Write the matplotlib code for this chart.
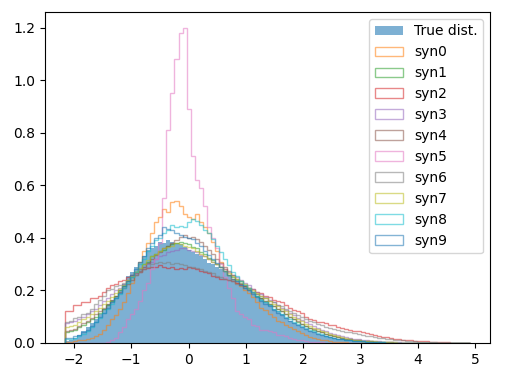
import matplotlib
matplotlib.use("Agg")
import matplotlib.pyplot as plt
import numpy as np

# ---- bins (shared by every histogram) ----
bin_lo, bin_hi, n_bins = -2.15, 4.90, 100

# ---- densities per bin ----
true_dist = [
    0.008, 0.012, 0.02, 0.03, 0.045, 0.06, 0.075, 0.09, 0.11, 0.13,
    0.15, 0.165, 0.18, 0.2, 0.225, 0.255, 0.27, 0.29, 0.31, 0.33,
    0.355, 0.36, 0.37, 0.385, 0.38, 0.39, 0.385, 0.38, 0.375, 0.365,
    0.355, 0.345, 0.34, 0.33, 0.32, 0.305, 0.3, 0.29, 0.28, 0.27,
    0.255, 0.245, 0.235, 0.225, 0.215, 0.2, 0.19, 0.18, 0.17, 0.155,
    0.145, 0.13, 0.12, 0.11, 0.095, 0.085, 0.075, 0.068, 0.06, 0.053,
    0.047, 0.041, 0.036, 0.031, 0.027, 0.023, 0.02, 0.017, 0.014, 0.012,
    0.01, 0.009, 0.007, 0.006, 0.005, 0.004, 0.0035, 0.003, 0.0025, 0.002,
    0.0015, 0.0015, 0.001, 0.001, 0.0008, 0.0006, 0.0005, 0.0004, 0.0003, 0.0003,
    0.0002, 0.0002, 0.0001, 0.0001, 0, 0, 0, 0, 0, 0,
]

syn0 = [
    0.005, 0.005, 0.008, 0.01, 0.012, 0.015, 0.02, 0.025, 0.035, 0.05,
    0.07, 0.09, 0.105, 0.13, 0.155, 0.19, 0.23, 0.27, 0.31, 0.35,
    0.38, 0.42, 0.46, 0.48, 0.51, 0.5, 0.535, 0.54, 0.52, 0.49,
    0.48, 0.47, 0.49, 0.46, 0.44, 0.42, 0.385, 0.35, 0.31, 0.28,
    0.26, 0.245, 0.23, 0.215, 0.2, 0.19, 0.175, 0.155, 0.135, 0.125,
    0.11, 0.1, 0.085, 0.078, 0.07, 0.06, 0.052, 0.045, 0.038, 0.03,
    0.024, 0.019, 0.015, 0.012, 0.01, 0.007, 0.005, 0.004, 0.003, 0.002,
    0.0015, 0.001, 0.001, 0.0005, 0.0005, 0, 0, 0, 0, 0,
    0, 0, 0, 0, 0, 0, 0, 0, 0, 0,
    0, 0, 0, 0, 0, 0, 0, 0, 0, 0,
]

syn1 = [
    0.04, 0.045, 0.05, 0.06, 0.07, 0.08, 0.09, 0.1, 0.115, 0.13,
    0.145, 0.16, 0.18, 0.2, 0.215, 0.235, 0.25, 0.27, 0.28, 0.3,
    0.31, 0.33, 0.34, 0.35, 0.355, 0.37, 0.375, 0.38, 0.385, 0.38,
    0.375, 0.365, 0.36, 0.345, 0.34, 0.325, 0.315, 0.3, 0.29, 0.275,
    0.26, 0.25, 0.24, 0.23, 0.215, 0.205, 0.195, 0.18, 0.17, 0.16,
    0.15, 0.14, 0.13, 0.12, 0.11, 0.1, 0.09, 0.08, 0.072, 0.065,
    0.058, 0.05, 0.045, 0.04, 0.035, 0.03, 0.026, 0.022, 0.019, 0.016,
    0.014, 0.012, 0.01, 0.008, 0.007, 0.006, 0.005, 0.004, 0.003, 0.0025,
    0.002, 0.0015, 0.001, 0.001, 0.0008, 0.0006, 0.0005, 0.0004, 0.0003, 0.0002,
    0.0002, 0.0001, 0, 0, 0, 0, 0, 0, 0, 0,
]

syn2 = [
    0.12, 0.12, 0.145, 0.145, 0.155, 0.155, 0.17, 0.17, 0.18, 0.195,
    0.21, 0.22, 0.225, 0.235, 0.24, 0.25, 0.26, 0.265, 0.27, 0.28,
    0.285, 0.29, 0.29, 0.295, 0.29, 0.285, 0.29, 0.28, 0.285, 0.28,
    0.29, 0.285, 0.28, 0.275, 0.27, 0.265, 0.255, 0.25, 0.245, 0.245,
    0.24, 0.235, 0.23, 0.225, 0.215, 0.21, 0.205, 0.195, 0.19, 0.18,
    0.175, 0.165, 0.16, 0.155, 0.145, 0.135, 0.125, 0.12, 0.115, 0.1,
    0.09, 0.088, 0.08, 0.08, 0.075, 0.07, 0.068, 0.062, 0.058, 0.052,
    0.05, 0.047, 0.045, 0.042, 0.038, 0.034, 0.03, 0.027, 0.024, 0.021,
    0.019, 0.017, 0.015, 0.013, 0.011, 0.01, 0.009, 0.008, 0.007, 0.006,
    0.005, 0.004, 0.0035, 0.003, 0.002, 0.0015, 0.001, 0.0008, 0.0005, 0.0003,
]

syn3 = [
    0.075, 0.08, 0.085, 0.09, 0.1, 0.11, 0.12, 0.13, 0.145, 0.16,
    0.17, 0.185, 0.2, 0.21, 0.225, 0.24, 0.255, 0.265, 0.28, 0.29,
    0.3, 0.31, 0.32, 0.33, 0.335, 0.345, 0.35, 0.355, 0.36, 0.36,
    0.355, 0.35, 0.345, 0.335, 0.33, 0.32, 0.31, 0.3, 0.29, 0.28,
    0.27, 0.26, 0.25, 0.24, 0.23, 0.22, 0.205, 0.195, 0.185, 0.175,
    0.165, 0.155, 0.145, 0.135, 0.125, 0.115, 0.105, 0.095, 0.087, 0.079,
    0.071, 0.064, 0.057, 0.05, 0.044, 0.039, 0.034, 0.03, 0.026, 0.022,
    0.019, 0.016, 0.014, 0.012, 0.01, 0.008, 0.007, 0.006, 0.005, 0.004,
    0.003, 0.0025, 0.002, 0.0015, 0.001, 0.001, 0.0008, 0.0006, 0.0005, 0.0004,
    0.0003, 0.0002, 0.0002, 0.0001, 0, 0, 0, 0, 0, 0,
]

syn4 = [
    0.045, 0.05, 0.055, 0.065, 0.075, 0.085, 0.095, 0.11, 0.12, 0.135,
    0.15, 0.165, 0.18, 0.195, 0.21, 0.225, 0.24, 0.26, 0.275, 0.29,
    0.305, 0.32, 0.335, 0.345, 0.36, 0.37, 0.38, 0.39, 0.405, 0.41,
    0.4, 0.405, 0.395, 0.385, 0.37, 0.355, 0.34, 0.32, 0.305, 0.29,
    0.275, 0.26, 0.245, 0.235, 0.22, 0.21, 0.195, 0.185, 0.17, 0.16,
    0.15, 0.14, 0.13, 0.12, 0.11, 0.1, 0.09, 0.082, 0.074, 0.066,
    0.058, 0.052, 0.046, 0.04, 0.035, 0.03, 0.026, 0.022, 0.019, 0.016,
    0.014, 0.012, 0.01, 0.008, 0.007, 0.006, 0.005, 0.004, 0.003, 0.0025,
    0.002, 0.0015, 0.001, 0.001, 0.0008, 0.0006, 0.0005, 0.0004, 0.0003, 0.0002,
    0, 0, 0, 0, 0, 0, 0, 0, 0, 0,
]

syn5 = [
    0, 0, 0, 0, 0, 0, 0, 0, 0, 0,
    0.003, 0.01, 0.02, 0.04, 0.06, 0.09, 0.11, 0.13, 0.16, 0.2,
    0.23, 0.28, 0.32, 0.38, 0.55, 0.81, 0.95, 1.08, 1.18, 1.2,
    0.89, 0.71, 0.62, 0.59, 0.52, 0.44, 0.4, 0.36, 0.3, 0.25,
    0.21, 0.17, 0.12, 0.11, 0.1, 0.09, 0.07, 0.065, 0.05, 0.05,
    0.045, 0.04, 0.03, 0.03, 0.025, 0.02, 0.015, 0.012, 0.01, 0.008,
    0.005, 0.004, 0.003, 0.002, 0.001, 0, 0, 0, 0, 0,
    0, 0, 0, 0, 0, 0, 0, 0, 0, 0,
    0, 0, 0, 0, 0, 0, 0, 0, 0, 0,
    0, 0, 0, 0, 0, 0, 0, 0, 0, 0,
]

syn6 = [
    0.08, 0.085, 0.095, 0.1, 0.11, 0.115, 0.13, 0.15, 0.165, 0.18,
    0.2, 0.205, 0.215, 0.22, 0.23, 0.24, 0.25, 0.26, 0.27, 0.28,
    0.29, 0.3, 0.305, 0.31, 0.305, 0.31, 0.3, 0.305, 0.3, 0.295,
    0.29, 0.29, 0.285, 0.28, 0.275, 0.27, 0.265, 0.255, 0.25, 0.245,
    0.24, 0.235, 0.225, 0.22, 0.21, 0.2, 0.195, 0.185, 0.18, 0.17,
    0.16, 0.155, 0.145, 0.14, 0.13, 0.12, 0.115, 0.105, 0.1, 0.092,
    0.085, 0.08, 0.073, 0.068, 0.062, 0.058, 0.054, 0.05, 0.046, 0.043,
    0.04, 0.038, 0.034, 0.031, 0.028, 0.025, 0.022, 0.02, 0.018, 0.016,
    0.014, 0.012, 0.011, 0.01, 0.008, 0.007, 0.006, 0.005, 0.004, 0.003,
    0.0025, 0.002, 0.0015, 0.001, 0.0008, 0.0005, 0.0003, 0.0002, 0, 0,
]

syn7 = [
    0.06, 0.065, 0.07, 0.08, 0.09, 0.1, 0.11, 0.12, 0.135, 0.15,
    0.16, 0.175, 0.19, 0.205, 0.22, 0.24, 0.255, 0.27, 0.285, 0.3,
    0.315, 0.33, 0.34, 0.35, 0.36, 0.365, 0.37, 0.38, 0.375, 0.37,
    0.365, 0.36, 0.35, 0.34, 0.33, 0.32, 0.31, 0.3, 0.29, 0.275,
    0.265, 0.255, 0.245, 0.235, 0.225, 0.21, 0.2, 0.19, 0.18, 0.17,
    0.16, 0.15, 0.14, 0.13, 0.12, 0.11, 0.1, 0.09, 0.082, 0.074,
    0.066, 0.058, 0.052, 0.046, 0.04, 0.035, 0.03, 0.026, 0.022, 0.019,
    0.016, 0.013, 0.011, 0.009, 0.008, 0.007, 0.006, 0.005, 0.004, 0.003,
    0.0025, 0.002, 0.0015, 0.001, 0.001, 0.0008, 0.0006, 0.0005, 0.0004, 0.0003,
    0.0002, 0, 0, 0, 0, 0, 0, 0, 0, 0,
]

syn8 = [
    0.015, 0.015, 0.02, 0.025, 0.035, 0.045, 0.06, 0.08, 0.095, 0.115,
    0.13, 0.15, 0.17, 0.185, 0.21, 0.23, 0.25, 0.27, 0.3, 0.32,
    0.35, 0.37, 0.39, 0.4, 0.42, 0.43, 0.45, 0.44, 0.445, 0.44,
    0.46, 0.47, 0.465, 0.45, 0.43, 0.42, 0.395, 0.37, 0.345, 0.32,
    0.295, 0.27, 0.255, 0.235, 0.22, 0.21, 0.195, 0.18, 0.165, 0.155,
    0.145, 0.13, 0.12, 0.11, 0.1, 0.09, 0.08, 0.072, 0.063, 0.056,
    0.05, 0.044, 0.038, 0.033, 0.028, 0.024, 0.02, 0.017, 0.014, 0.012,
    0.01, 0.008, 0.007, 0.006, 0.005, 0.004, 0.003, 0.0025, 0.002, 0.0015,
    0.001, 0.001, 0.0008, 0.0006, 0.0005, 0.0004, 0.0003, 0.0002, 0.0002, 0.0001,
    0, 0, 0, 0, 0, 0, 0, 0, 0, 0,
]

syn9 = [
    0.02, 0.02, 0.025, 0.03, 0.04, 0.05, 0.065, 0.08, 0.1, 0.115,
    0.135, 0.155, 0.17, 0.19, 0.215, 0.235, 0.26, 0.28, 0.31, 0.33,
    0.36, 0.38, 0.4, 0.41, 0.44, 0.435, 0.43, 0.42, 0.41, 0.405,
    0.4, 0.395, 0.38, 0.37, 0.35, 0.335, 0.32, 0.305, 0.29, 0.275,
    0.26, 0.245, 0.235, 0.22, 0.21, 0.2, 0.185, 0.175, 0.16, 0.15,
    0.14, 0.125, 0.115, 0.105, 0.095, 0.085, 0.075, 0.068, 0.06, 0.053,
    0.047, 0.041, 0.036, 0.031, 0.027, 0.023, 0.02, 0.017, 0.014, 0.012,
    0.01, 0.008, 0.007, 0.006, 0.005, 0.004, 0.003, 0.0025, 0.002, 0.0015,
    0.001, 0.001, 0.0008, 0.0006, 0.0005, 0.0004, 0.0003, 0.0002, 0.0002, 0.0001,
    0, 0, 0, 0, 0, 0, 0, 0, 0, 0,
]

syn_series = [syn0, syn1, syn2, syn3, syn4, syn5, syn6, syn7, syn8, syn9]
syn_labels = ["syn%d" % i for i in range(10)]

edges = np.linspace(bin_lo, bin_hi, n_bins + 1)
centers = edges[:-1]

fig = plt.figure(figsize=(5.12, 3.7), dpi=100)
ax = fig.add_axes([0.088, 0.073, 0.869, 0.895])

ax.hist(centers, bins=edges, weights=true_dist, color="C0", alpha=0.58,
        label="True dist.")
for i, (vals, lab) in enumerate(zip(syn_series, syn_labels)):
    color = "C%d" % ((i + 1) % 10)
    ax.hist(centers, bins=edges, weights=vals, histtype="step",
            color=color, alpha=0.55, linewidth=1, label=lab)

ax.legend(loc="upper right")
fig.savefig("out.png", dpi=100)
